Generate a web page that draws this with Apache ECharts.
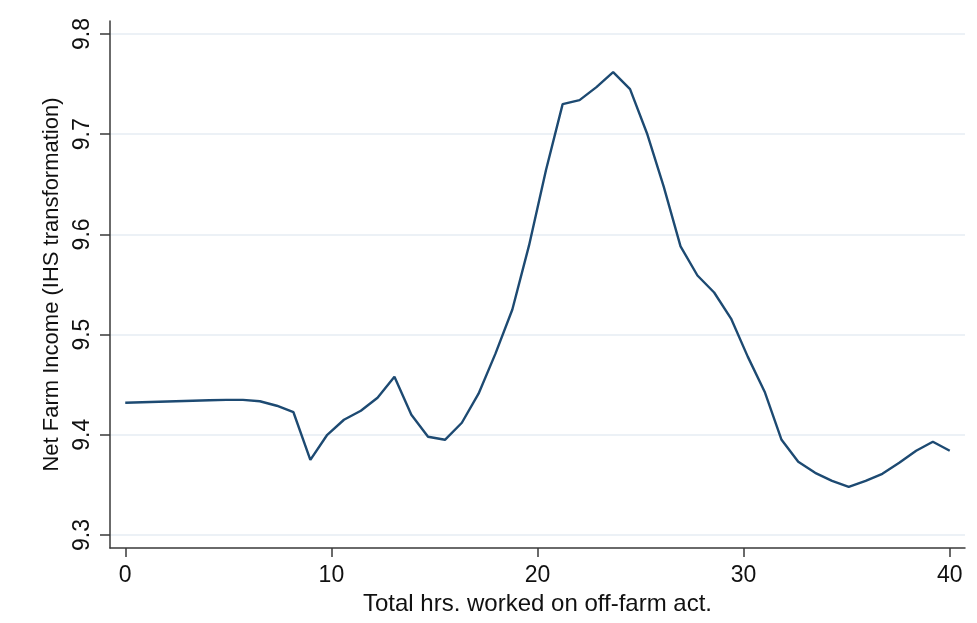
<!DOCTYPE html>
<html>
<head>
<meta charset="utf-8">
<title>Net Farm Income vs off-farm hours</title>
<script src="https://cdn.jsdelivr.net/npm/echarts@6/dist/echarts.min.js"></script>
<style>
  html, body { margin: 0; padding: 0; background: #ffffff; }
  #chart { width: 977px; height: 623px; }
</style>
</head>
<body>
<div id="chart"></div>
<script>
// Evaluation grid (total hours worked off-farm)
const hours = [
  0.00, 0.82, 1.63, 2.45, 3.27, 4.08, 4.90, 5.71, 6.53, 7.35,
  8.16, 8.98, 9.80, 10.61, 11.43, 12.24, 13.06, 13.88, 14.69, 15.51,
  16.33, 17.14, 17.96, 18.78, 19.59, 20.41, 21.22, 22.04, 22.86, 23.67,
  24.49, 25.31, 26.12, 26.94, 27.76, 28.57, 29.39, 30.20, 31.02, 31.84,
  32.65, 33.47, 34.29, 35.10, 35.92, 36.73, 37.55, 38.37, 39.18, 40.00
];

// Smoothed net farm income (IHS transformation)
const income = [
  9.432, 9.4325, 9.433, 9.4335, 9.434, 9.4345, 9.4348, 9.4348, 9.4335, 9.429,
  9.4225, 9.375, 9.400, 9.415, 9.424, 9.437, 9.458, 9.420, 9.398, 9.395,
  9.412, 9.441, 9.481, 9.525, 9.589, 9.664, 9.730, 9.734, 9.747, 9.762,
  9.745, 9.701, 9.648, 9.588, 9.559, 9.542, 9.516, 9.478, 9.443, 9.395,
  9.373, 9.362, 9.354, 9.348, 9.354, 9.361, 9.372, 9.384, 9.393, 9.384
];

const xTicks = [0, 10, 20, 30, 40];
const yTicks = [9.3, 9.4, 9.5, 9.6, 9.7, 9.8];

const xTitle = 'Total hrs. worked on off-farm act.';
const yTitle = 'Net Farm Income (IHS transformation)';

const textFont = '"Liberation Sans", Arial, Helvetica, sans-serif';
const axisColor = '#3a3a3a';

const chart = echarts.init(document.getElementById('chart'), null, { renderer: 'canvas' });

chart.setOption({
  animation: false,
  backgroundColor: '#ffffff',
  grid: { left: 110, right: 12, top: 21, bottom: 75, containLabel: false },
  xAxis: {
    type: 'value',
    min: -0.74,
    max: 40.74,
    name: xTitle,
    nameLocation: 'middle',
    nameGap: 37,
    nameTextStyle: { fontFamily: textFont, fontSize: 24, color: '#111' },
    axisLine: { show: true, onZero: false, lineStyle: { color: axisColor, width: 1.5 } },
    axisTick: { show: true, length: 9, customValues: xTicks, lineStyle: { color: axisColor, width: 1.5 } },
    axisLabel: {
      customValues: xTicks,
      margin: 16,
      fontFamily: textFont, fontSize: 23, color: '#111',
      formatter: v => String(v)
    },
    splitLine: { show: false }
  },
  yAxis: {
    type: 'value',
    min: 9.287,
    max: 9.813,
    name: yTitle,
    nameLocation: 'middle',
    nameGap: 36,
    nameTextStyle: { fontFamily: textFont, fontSize: 22, color: '#111' },
    axisLine: { show: true, onZero: false, lineStyle: { color: axisColor, width: 1.5 } },
    axisTick: { show: true, length: 10, customValues: yTicks, lineStyle: { color: axisColor, width: 1.5 } },
    axisLabel: {
      customValues: yTicks,
      rotate: 90,
      margin: 16,
      fontFamily: textFont, fontSize: 23, color: '#111',
      formatter: v => v.toFixed(1)
    },
    splitLine: { show: true, lineStyle: { color: '#e6edf3', width: 1.5 } }
  },
  series: [{
    type: 'line',
    data: hours.map((h, i) => [h, income[i]]),
    showSymbol: false,
    smooth: false,
    lineStyle: { color: '#1d4a72', width: 2.4 },
    itemStyle: { color: '#1d4a72' }
  }]
});
</script>
</body>
</html>
